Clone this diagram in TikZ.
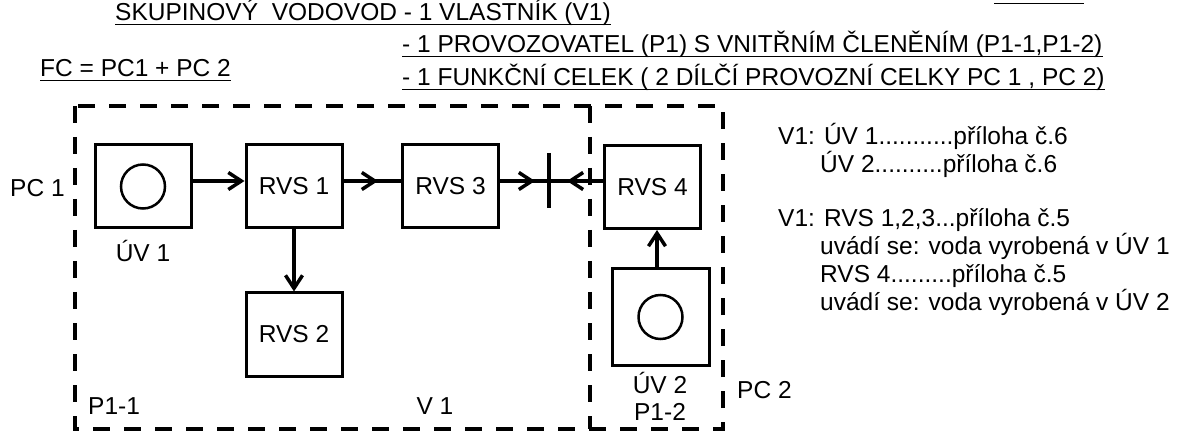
\documentclass[tikz,border=0pt]{standalone}
\usepackage{fontspec}
\setmainfont{Liberation Sans}
\usetikzlibrary{positioning,arrows.meta,decorations.markings}

\begin{document}
\begin{tikzpicture}[x=1pt,y=-1pt,
  font=\fontsize{24.5}{28}\selectfont,
  box/.style={rectangle,draw,line width=3pt,minimum width=96pt,minimum height=83pt,inner sep=0pt},
  well/.style={circle,draw,line width=2.5pt,minimum size=44pt,inner sep=0pt},
  frame/.style={line width=4.5pt,dash pattern=on 17pt off 14pt},
  conn/.style={line width=3.5pt},
  tip/.style={-{Straight Barb[length=13pt,width=17pt]}},
  mid/.style={postaction=decorate,decoration={markings,
    mark=at position #1 with {\arrow{Straight Barb[length=13pt,width=17pt]}}}},
  meet/.style={postaction=decorate,decoration={markings,
    mark=at position 0.34 with {\arrow{Straight Barb[length=13pt,width=17pt]}},
    mark=at position 0.65 with {\arrowreversed{Straight Barb[length=13pt,width=17pt]}}}},
  txt/.style={inner sep=0pt,anchor=base west},
  ctxt/.style={inner sep=0pt,anchor=base},
  uline/.style={line width=1.5pt}]
    \useasboundingbox (0,0) rectangle (1190,435);

    \node[txt] (obr) at (994,0) {Obr. 5.5};
    \node[txt] (t1) at (115,21) {SKUPINOVÝ\ \ VODOVOD - 1 VLASTNÍK (V1)};
    \node[txt] (t2) at (402,53) {- 1 PROVOZOVATEL (P1) S VNITŘNÍM ČLENĚNÍM (P1-1,P1-2)};
    \node[txt] (t3) at (402,86) {- 1 FUNKČNÍ CELEK ( 2 DÍLČÍ PROVOZNÍ CELKY PC 1 , PC 2)};
    \node[txt] (fc) at (40,77) {FC = PC1 + PC 2};
    \foreach \t in {obr,t1,t2,t3,fc}
      \draw[uline] ([yshift=-3.5pt]\t.base west) -- ([yshift=-3.5pt]\t.base east);

    \draw[frame] (75,106) rectangle (723,429);
    \draw[frame] (590,106) -- (590,429);

    \node[box] (u1) at (143,186.5) {};
    \node[well] (w1) at (u1) {};
    \node[box] (r1) at (294,186.5) {RVS 1};
    \node[box] (r3) at (450.5,186.5) {RVS 3};
    \node[box] (r4) at (652.5,187) {RVS 4};
    \node[box,below=62pt of r1] (r2) {RVS 2};
    \node[box,minimum width=97pt,minimum height=96pt] (u2) at (660.5,317) {};
    \node[well] (w2) at (u2) {};
    \coordinate (j) at (549,181);

    \draw[conn,tip] ([yshift=5.5pt]u1.east) -- ([yshift=5.5pt]r1.west);
    \draw[conn,mid=0.6] ([yshift=5.5pt]r1.east) -- ([yshift=5.5pt]r3.west);
    \draw[conn,meet] ([yshift=5.5pt]r3.east) -- ([yshift=6pt]r4.west);
    \draw[conn] ([yshift=28pt]j) -- ([yshift=-27pt]j);
    \draw[conn,tip] (r1) -- (r2);
    \draw[conn,tip] ([xshift=-3.5pt]u2.north) -- ([xshift=-3.5pt]u2.north |- r4.south);

    \node[ctxt] (n1) at (143,262) {ÚV 1};
    \node[txt] (p1) at (10,197) {PC 1};
    \node[txt] (o1) at (88,414) {P1-1};
    \node[ctxt] (v1) at (435,414) {V 1};
    \node[ctxt] (n2) at (660,393) {ÚV 2};
    \node[ctxt] (o2) at (660,420) {P1-2};
    \node[txt] (p2) at (737,398) {PC 2};

    \node[txt] (a1) at (778,145) {V1: ÚV 1...........příloha č.6};
    \node[txt] (a2) at (820,173) {ÚV 2..........příloha č.6};
    \node[txt] (a3) at (778,227) {V1: RVS 1,2,3...příloha č.5};
    \node[txt] (a4) at (820,255) {uvádí se: voda vyrobená v ÚV 1};
    \node[txt] (a5) at (820,283) {RVS 4.........příloha č.5};
    \node[txt] (a6) at (820,311) {uvádí se: voda vyrobená v ÚV 2};
\end{tikzpicture}
\end{document}
